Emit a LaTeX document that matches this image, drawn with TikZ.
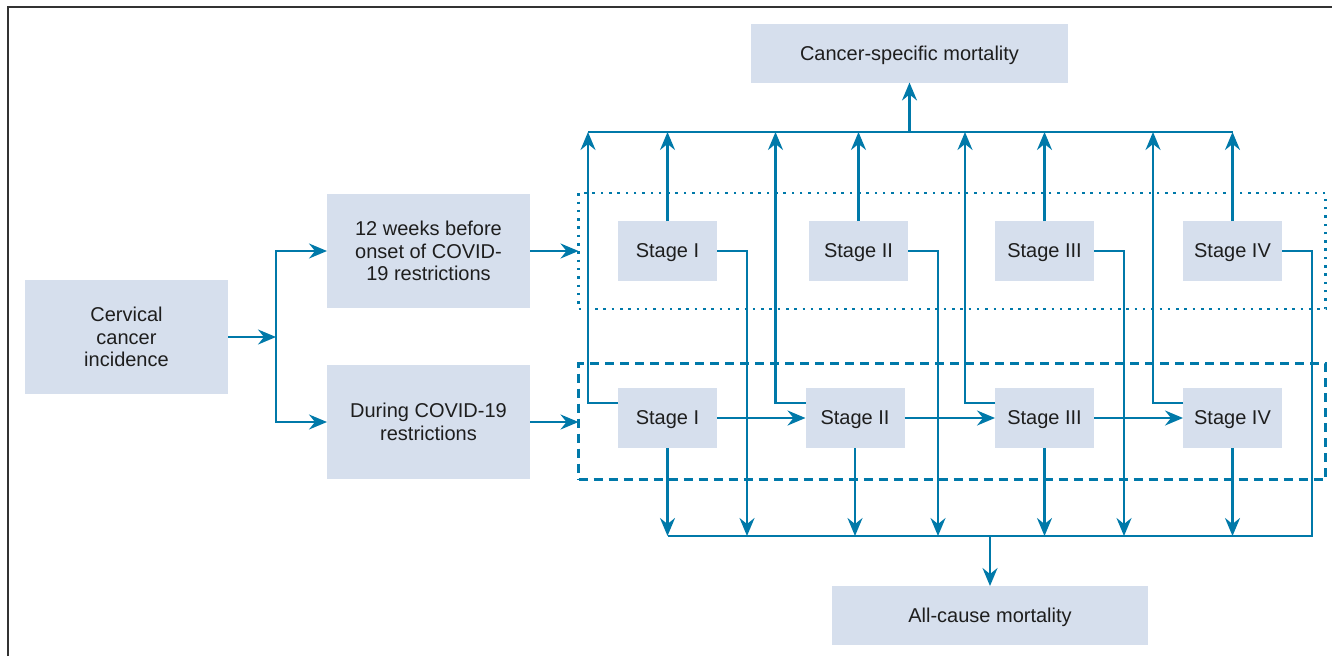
\documentclass[tikz,border=0pt]{standalone}
\usepackage{fontspec}
\setmainfont{Liberation Sans}
\usetikzlibrary{arrows.meta}
\definecolor{boxfill}{RGB}{214,223,237}
\definecolor{flowblue}{RGB}{0,121,169}
\definecolor{inktext}{RGB}{30,30,30}
\tikzset{
  box/.style={fill=boxfill, text=inktext, inner sep=0pt, outer sep=0pt, align=center,
    font=\fontsize{20}{22.7}\selectfont},
  bigbox/.style={box, minimum width=203pt, minimum height=114pt},
  stagebox/.style={box, text depth=0pt, minimum width=99pt, minimum height=60pt},
  wire/.style={draw=flowblue, line width=2.3pt},
  flow/.style={wire, -{Stealth[length=18pt,width=15pt,inset=6pt]}},
  period/.style={draw=flowblue, line width=2.3pt, inner sep=0pt, outer sep=0pt,
    minimum width=747pt, minimum height=116pt}
}

\begin{document}
\begin{tikzpicture}[x=1pt,y=-1pt]
    \useasboundingbox (0,0) rectangle (1332,656);
    \draw [line width=1.5pt, black!80] (8,656) -- (8,7) -- (1332,7);

    \node [bigbox] (cerv) at (126.5,337) {Cervical\\cancer\\incidence};
    \node [bigbox] (weeks) at (428.5,251) {12 weeks before\\onset of COVID-\\19 restrictions};
    \node [bigbox] (during) at (428.5,422) {During COVID-19\\restrictions};
    \node [period, dash pattern=on 2.5pt off 5.8pt] (early) at (952,251) {};
    \node [period, dash pattern=on 9pt off 6pt] (late) at (952,421.5) {};
    \node [box, text depth=0pt, minimum width=317pt, minimum height=59pt] (cancer) at (909.5,53) {Cancer-specific mortality};
    \node [box, text depth=0pt, minimum width=316pt, minimum height=59pt] (allc) at (990,615.5) {All-cause mortality};
    \foreach \n/\name/\xu/\xl in {1/I/667.5/667.5, 2/II/858.5/855, 3/III/1044.5/1044.5, 4/IV/1232.5/1232.5} {
        \node [stagebox] (u\n) at (\xu,251) {Stage \name};
        \node [stagebox] (l\n) at (\xl,418) {Stage \name};
    }

    \coordinate (split) at (276,337);
    \coordinate (tb) at (0,132);
    \coordinate (bb) at (0,536);

    \draw [flow] (cerv) -- (split);
    \draw [flow] (split) |- (weeks);
    \draw [flow] (split) |- (during);
    \draw [flow] (weeks.east) -- (weeks.east -| early.west);
    \draw [flow] (during.east) -- (during.east -| late.west);

    \foreach \n in {1,...,4} {
        \draw [flow] (u\n.north) -- (u\n.north |- tb);
        \draw [flow] (l\n.south) -- (l\n.south |- bb);
        \draw [flow] ([yshift=15pt]l\n.west) -| ([xshift=-30pt]l\n.west |- tb);
    }
    \foreach \n in {1,2,3}
        \draw [flow] (u\n.east) -| ([xshift=30pt]u\n.east |- bb);
    \foreach \a/\b in {1/2,2/3,3/4}
        \draw [flow] (l\a) -- (l\b);

    \draw [wire] (u4.east) -| ([xshift=30pt]u4.east |- bb) -- (l1.south |- bb);
    \draw [wire] ([xshift=-30pt]l1.west |- tb) -- (u4.north |- tb);
    \draw [flow] (cancer.south |- tb) -- (cancer.south);
    \draw [flow] (allc.north |- bb) -- (allc.north);
\end{tikzpicture}
\end{document}
